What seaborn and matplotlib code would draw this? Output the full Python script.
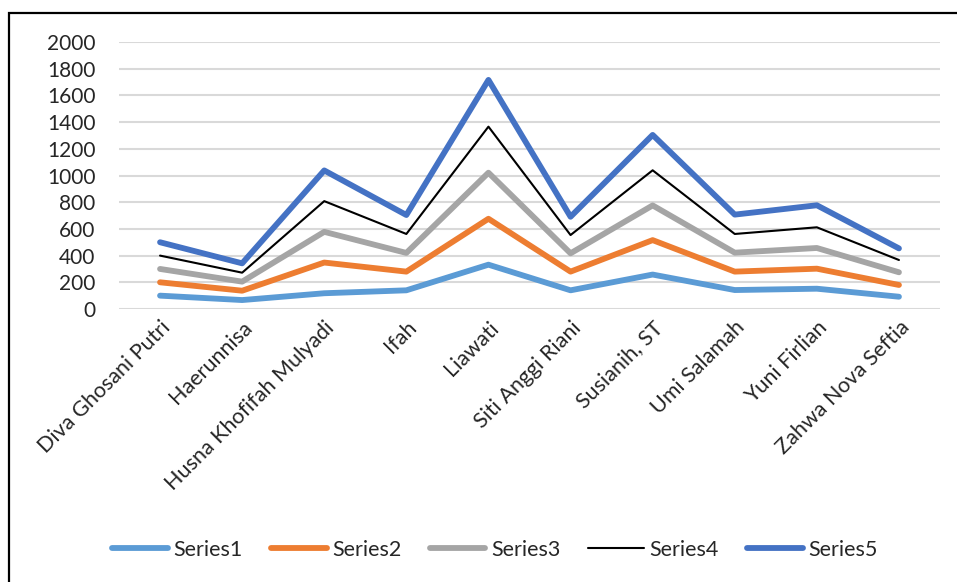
import numpy as np
import pandas as pd
import seaborn as sns
import matplotlib.pyplot as plt
from matplotlib.patches import Rectangle

# Categories (x axis) and the values of each stacked series
names = ["Diva Ghosani Putri", "Haerunnisa", "Husna Khofifah Mulyadi", "Ifah",
         "Liawati", "Siti Anggi Riani", "Susianih, ST", "Umi Salamah",
         "Yuni Firlian", "Zahwa Nova Seftia"]
series1 = [100, 67, 118, 140, 332, 140, 258, 142, 152, 92]
series2 = [100, 70, 230, 140, 344, 140, 258, 138, 150, 88]
series3 = [100, 68, 230, 140, 345, 137, 260, 142, 155, 95]
series4 = [100, 67, 230, 142, 345, 137, 263, 140, 155, 92]
series5 = [100, 70, 230, 142, 350, 137, 265, 145, 165, 87]
series_names = ["Series1", "Series2", "Series3", "Series4", "Series5"]

colors = ["#5B9BD5", "#ED7D31", "#A5A5A5", "#000000", "#4472C4"]
widths = [4.2, 4.2, 4.2, 1.5, 4.2]

# stacked line chart: each series sits on top of the previous ones
stacked = np.cumsum(np.array([series1, series2, series3, series4, series5]), axis=0)

sns.set_style("white")
plt.rcParams["font.family"] = ["Lato", "DejaVu Sans"]

fig = plt.figure(figsize=(9.57, 5.82), dpi=100)
ax = fig.add_axes([119 / 957, 1 - 309 / 582, (940 - 119) / 957, (309 - 42) / 582])

x_pos = np.arange(len(names))
for i, name in enumerate(series_names):
    df = pd.DataFrame({"x": x_pos, "y": stacked[i]})
    sns.lineplot(data=df, x="x", y="y", ax=ax, color=colors[i], linewidth=widths[i],
                 label=name, solid_capstyle="round", solid_joinstyle="round", legend=False)

ax.set_xlim(-0.5, len(names) - 0.5)
ax.set_ylim(0, 2000)
ax.set_yticks(range(0, 2001, 200))
ax.set_xticks(x_pos)
ax.set_xticklabels(names, rotation=45, ha="right", rotation_mode="anchor", fontsize=15.5)
ax.tick_params(axis="y", labelsize=15, pad=17, length=0)
ax.tick_params(axis="x", length=0, pad=6)
ax.set_xlabel("")
ax.set_ylabel("")
ax.yaxis.grid(True, color="#D9D9D9", linewidth=1.5)
ax.set_axisbelow(True)
for s in ax.spines.values():
    s.set_visible(False)

handles, labels = ax.get_legend_handles_labels()
fig.legend(handles, labels, loc="center", bbox_to_anchor=(495 / 957, 1 - 550 / 582),
           ncol=5, frameon=False, fontsize=15.5, handlelength=2.6, handletextpad=0.25,
           columnspacing=1.3)

# chart border (left and top visible in the original crop)
fig.patches.append(Rectangle((9 / 957, -0.1), 1.2, 1.1 - 13 / 582, transform=fig.transFigure,
                             fill=False, edgecolor="black", linewidth=1.6))

fig.savefig("out.png", dpi=100)
